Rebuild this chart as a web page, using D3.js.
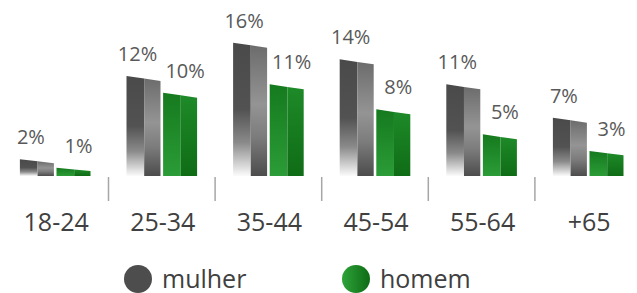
<!DOCTYPE html>
<html>
<head>
<meta charset="utf-8">
<script src="https://cdn.jsdelivr.net/npm/d3@7/dist/d3.min.js"></script>
<style>
  html, body { margin: 0; padding: 0; background: #fff; overflow: hidden; }
  svg { display: block; }
  text { font-family: "Open Sans", "Noto Sans", sans-serif; }
</style>
</head>
<body>
<svg id="chart" width="637" height="293"></svg>
<script>
// ---- data ----
const categories = ["18-24", "25-34", "35-44", "45-54", "55-64", "+65"];
const seriesNames = ["mulher", "homem"];
const mulher = [2, 12, 16, 14, 11, 7];
const homem  = [1, 10, 11, 8, 5, 3];
const valueLabelsMulher = ["2%", "12%", "16%", "14%", "11%", "7%"];
const valueLabelsHomem  = ["1%", "10%", "11%", "8%", "5%", "3%"];

const W = 637, H = 293;
const svg = d3.select("#chart");
const defs = svg.append("defs");

function vgrad(id, stops, horiz) {
  const g = defs.append("linearGradient").attr("id", id)
    .attr("x1", 0).attr("y1", 0).attr("x2", horiz ? 1 : 0).attr("y2", horiz ? 0 : 1);
  stops.forEach(s => g.append("stop").attr("offset", s[0]).attr("stop-color", s[1]));
}
vgrad("mL", [[0, "#4a4a4a"], [0.5, "#525252"], [0.75, "#8a8a8a"], [1, "#fbfbfb"]]);
vgrad("mR", [[0, "#6c6c6c"], [0.45, "#949494"], [0.7, "#7c7c7c"], [1, "#4c4c4c"]]);
vgrad("hL", [[0, "#157a1e"], [1, "#2b9c37"]]);
vgrad("hR", [[0, "#1e8a28"], [1, "#0f6c16"]]);
vgrad("legG", [[0, "#2ea33a"], [1, "#0e6b14"]], true);

// ---- scales ----
const x = d3.scaleBand().domain(categories).range([1.9, 641.5]).padding(0);
const y = d3.scaleLinear().domain([0, 18]).range([176, 26]);
const barW = 34, gap = 1.3;

const rows = categories.map((c, i) => ({
  cat: c,
  vals: [
    { s: 0, v: mulher[i], lab: valueLabelsMulher[i] },
    { s: 1, v: homem[i], lab: valueLabelsHomem[i] }
  ]
}));

const g = svg.append("g");
rows.forEach(r => {
  const cx = x(r.cat) + x.bandwidth() / 2;
  r.vals.forEach(d => {
    const xl = d.s === 0 ? cx - gap - barW : cx + gap;
    const xr = xl + barW;
    const xm = xl + barW * 0.52;
    const yb = y(0);
    const yt = y(d.v);
    const h = yb - yt;
    const slant = Math.min(5, 3 + h / 20);
    const ytm = yt + slant * (xm - xl) / (xr - xl);
    const ytr = yt + slant;
    const pre = d.s === 0 ? "m" : "h";
    g.append("path")
      .attr("d", `M${xl},${yb}L${xl},${yt}L${xm},${ytm}L${xm},${yb}Z`)
      .attr("fill", `url(#${pre}L)`);
    g.append("path")
      .attr("d", `M${xm},${yb}L${xm},${ytm}L${xr},${ytr}L${xr},${yb}Z`)
      .attr("fill", `url(#${pre}R)`);
    g.append("text")
      .attr("x", (xl + xr) / 2 + (d.s === 0 ? -6 : 5))
      .attr("y", yt - 15)
      .attr("text-anchor", "middle")
      .attr("font-size", 20)
      .attr("fill", "#595959")
      .text(d.lab);
  });
});

// separators between categories
const bounds = categories.slice(1).map(c => x(c));
svg.append("g").selectAll("line").data(bounds).join("line")
  .attr("x1", d => d).attr("x2", d => d)
  .attr("y1", 177).attr("y2", 201)
  .attr("stroke", "#a6a6a6").attr("stroke-width", 1.5);

// category labels
svg.append("g").selectAll("text").data(categories).join("text")
  .attr("x", d => x(d) + x.bandwidth() / 2 + 1)
  .attr("y", 231)
  .attr("text-anchor", "middle")
  .attr("font-size", 25)
  .attr("fill", "#404040")
  .text(d => d);

// legend
const legend = [
  { name: seriesNames[0], cx: 138, fill: "#4d4d4d" },
  { name: seriesNames[1], cx: 356, fill: "url(#legG)" }
];
const lg = svg.append("g");
legend.forEach(l => {
  lg.append("circle").attr("cx", l.cx).attr("cy", 279).attr("r", 14).attr("fill", l.fill);
  lg.append("text").attr("x", l.cx + 24).attr("y", 288)
    .attr("font-size", 25).attr("fill", "#404040").text(l.name);
});
</script>
</body>
</html>
